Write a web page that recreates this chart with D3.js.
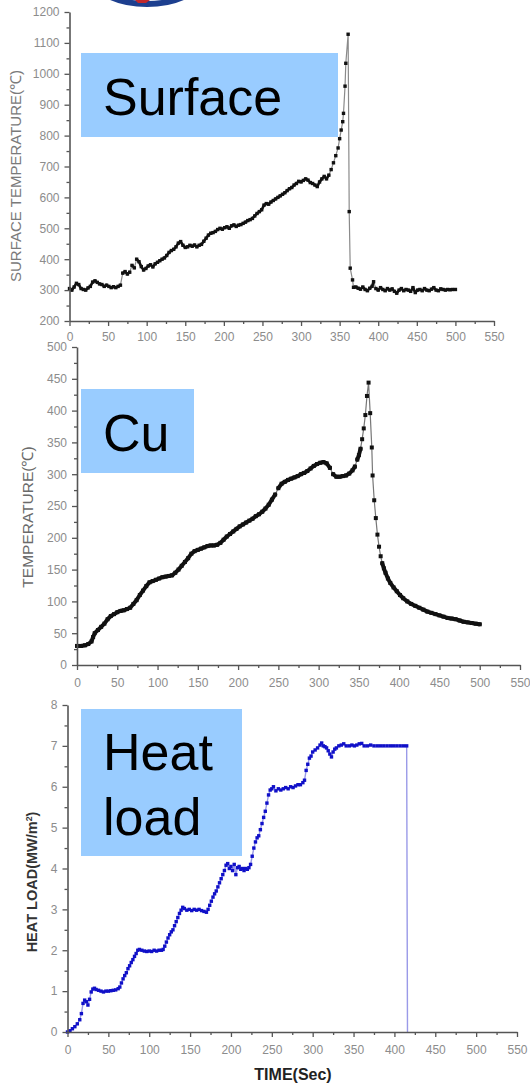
<!DOCTYPE html>
<html>
<head>
<meta charset="utf-8">
<script src="https://cdn.jsdelivr.net/npm/d3@7/dist/d3.min.js"></script>
<style>
  html, body { margin: 0; padding: 0; background: #fff; }
  svg { display: block; }
  .tick text { font-family: "Liberation Sans", Arial, sans-serif; fill: #8c8c8c; }
  .tick line, .domain { stroke: #555; }
</style>
</head>
<body>
<svg id="chart" width="530" height="1087"></svg>
<script>
// Surface temperature (s, °C)
const surfTime = [0,3,6,9,12,15,18,21,24,27,30,33,36,39,42,45,48,51,54,57,60,63,66,69,72,75,78,81,84,87,90,93,96,99,102,105,108,111,114,117,120,123,126,129,132,135,138,141,144,147,150,153,156,159,162,165,168,171,174,177,180,183,186,189,192,195,198,201,204,207,210,213,216,219,222,225,228,231,234,237,240,243,246,249,252,255,258,261,264,267,270,273,276,279,282,285,288,291,294,297,300,303,306,309,312,315,318,321,324,327,330,333,336,339,342,345,348,350,352,354,355,357,358,361,362.4,363.7,366.7,368,371,374,377,380,383,386,389,392,394,397,400,403,406,409,412,415,418,421,424,427,430,433,436,439,442,445,448,451,454,457,460,463,466,469,472,475,478,481,484,487,490,493,496,500];
const surfTemp = [305,300,310,322,318,305,302,300,307,312,326,330,325,320,318,312,316,312,308,311,308,312,316,355,360,352,358,380,372,400,392,376,365,370,378,382,375,385,390,395,400,404,412,422,428,432,440,452,457,445,438,440,445,442,446,440,445,448,458,468,478,484,486,490,496,500,497,502,505,500,508,511,506,510,512,516,520,525,528,532,540,548,554,560,575,580,578,585,590,595,600,605,610,615,622,628,632,640,645,652,650,655,660,656,648,645,640,635,650,660,668,660,672,690,712,735,760,790,818,845,872,960,1034,1128,554,371,333,309,310,306,303,310,302,298,306,312,327,305,300,308,302,298,305,300,304,296,290,300,305,298,302,300,296,308,292,300,302,298,305,300,298,303,308,300,298,304,302,300,302,301,302,302];

// Copper temperature (s, °C)
const cuTime = [0,5,10,14,18,20,22,26,30,34,38,42,46,50,54,58,62,66,70,74,78,82,86,90,94,98,102,106,110,114,118,122,126,130,134,138,142,146,150,154,158,162,166,170,174,178,182,186,190,194,198,202,206,210,214,218,222,226,230,234,238,242,246,250,254,258,262,266,270,274,278,282,286,290,294,298,302,306,310,314,318,322,326,330,334,338,342,345,348,350,352,354,356,358,360,362,364,366,367,369,371,373,375,377,379,381,383,386,389,393,397,401,405,410,415,420,425,430,435,440,445,450,455,460,465,470,475,480,485,490,495,500];
const cuTemp = [30,30,31,33,37,44,50,55,60,65,72,77,80,83,85,86,88,90,96,102,110,117,124,130,132,134,136,138,139,140,141,145,150,156,162,168,175,179,181,183,185,187,188,188,189,192,197,202,206,210,214,218,221,224,227,230,234,237,241,246,252,260,268,278,285,288,291,293,295,297,300,302,305,309,313,316,318,319,317,310,300,296,296,297,298,301,306,312,323,330,340,355,372,393,423,444,396,342,298,259,231,205,186,171,160,152,145,136,129,122,116,110,105,100,96,93,90,87,84,82,80,78,76,74,73,72,70,68,67,66,65,64];

// Heat load (s, MW/m²)
const heatTime = [0,3,6,9,12,15,17,19,21,23,25,27,29,31,33,35,38,41,44,47,50,53,56,59,62,64,66,68,70,72,74,76,78,80,82,84,86,88,91,94,97,100,103,106,109,112,115,117,119,121,123,125,127,129,131,133,135,137,139,141,143,146,149,152,155,158,161,164,167,170,172,174,176,178,180,182,184,186,188,190,192,194,196,198,200,202,204,206,208,210,212,214,216,218,220,222,224,226,228,230,232,234,236,238,240,242,244,246,248,250,252,255,258,261,264,267,270,273,276,279,282,285,288,290,292,294,296,298,300,303,306,309,311,313,315,317,319,321,323,325,327,329,332,335,338,341,345,348,351,354,357,360,363,367,371,375,379,383,387,391,395,399,403,407,411,415,416];
const heatLoad = [0,0.03,0.08,0.13,0.2,0.3,0.45,0.7,0.78,0.74,0.66,0.8,0.98,1.05,1.07,1.04,1.02,1.0,0.98,1.0,1.0,1.01,1.02,1.03,1.06,1.1,1.2,1.3,1.38,1.45,1.55,1.62,1.7,1.77,1.85,1.92,2.0,2.02,2.0,1.98,1.97,1.98,1.97,2.0,1.98,2.0,2.0,2.02,2.1,2.2,2.3,2.38,2.45,2.5,2.6,2.7,2.8,2.9,2.98,3.05,3.02,2.98,3.0,2.97,3.0,2.98,3.0,2.97,2.95,2.93,3.0,3.1,3.2,3.3,3.38,3.45,3.55,3.65,3.75,3.85,3.95,4.08,4.12,4.0,4.05,3.95,4.1,3.85,4.02,4.05,3.98,4.0,3.95,4.0,3.98,4.02,4.1,4.3,4.5,4.65,4.75,4.8,4.95,5.1,5.25,5.4,5.6,5.8,5.92,5.95,6.0,5.9,5.95,5.92,5.95,5.98,5.95,6.0,5.98,6.02,6.05,6.05,6.1,6.16,6.4,6.55,6.7,6.75,6.85,6.9,6.95,7.02,7.07,7.0,6.98,6.95,6.88,6.8,6.73,6.85,6.92,6.95,7.0,7.02,7.05,7.0,7.0,7.02,7.0,7.02,7.05,7.06,7.0,7.0,7.02,7.0,7.0,7.0,7.0,7.0,7.0,7.0,7.0,7.0,7.0,7.0,0];

// Axis tick values
const timeTicks = [0,50,100,150,200,250,300,350,400,450,500,550];
const surfTicks = [200,300,400,500,600,700,800,900,1000,1100,1200];
const cuTicks = [0,50,100,150,200,250,300,350,400,450,500];
const heatTicks = [0,1,2,3,4,5,6,7,8];

const svg = d3.select("#chart");
const FONT = '"Liberation Sans", Arial, sans-serif';

// partial logo cut off at the top edge
const logo = svg.append("g");
logo.append("ellipse").attr("cx", 147).attr("cy", -22).attr("rx", 53).attr("ry", 26)
  .attr("fill", "#fff").attr("stroke", "#1d3f8f").attr("stroke-width", 6);
logo.append("path").attr("d", "M135,0 L150,0 L146,3 L138,3 Z").attr("fill", "#c0282d");

function panel(cfg) {
  const g = svg.append("g");
  const x = d3.scaleLinear().domain([0, 550]).range([cfg.x0, cfg.x1]);
  const y = d3.scaleLinear().domain(cfg.yDomain).range([cfg.yBot, cfg.yTop]);

  const pts = cfg.time.map((t, i) => [t, cfg.vals[i]]);

  // thin connecting line
  const line = d3.line().x((d) => x(d[0])).y((d) => y(d[1]));
  g.append("path").datum(pts).attr("d", line)
    .attr("fill", "none").attr("stroke", cfg.lineColor).attr("stroke-width", cfg.lineWidth);

  // where samples sit close together the markers merge into a solid trace
  if (cfg.denseWidth) {
    let d = "";
    for (let i = 1; i < pts.length; i++) {
      const x1 = x(pts[i - 1][0]), y1 = y(pts[i - 1][1]);
      const x2 = x(pts[i][0]), y2 = y(pts[i][1]);
      if (Math.hypot(x2 - x1, y2 - y1) < cfg.denseGap) d += `M${x1},${y1}L${x2},${y2}`;
    }
    g.append("path").attr("d", d).attr("fill", "none").attr("stroke", cfg.markerColor)
      .attr("stroke-width", cfg.denseWidth).attr("stroke-linecap", "round");
  }

  const ms = cfg.marker;
  g.selectAll("rect.pt").data(cfg.markerFilter ? pts.filter(cfg.markerFilter) : pts).join("rect")
    .attr("class", "pt")
    .attr("x", (d) => x(d[0]) - ms / 2).attr("y", (d) => y(d[1]) - ms / 2)
    .attr("width", ms).attr("height", ms).attr("fill", cfg.markerColor);

  // axes with major and minor ticks
  const yMinor = cfg.yTicks.slice(0, -1).map((v, i) => (v + cfg.yTicks[i + 1]) / 2);
  const xMinor = timeTicks.slice(0, -1).map((v, i) => (v + timeTicks[i + 1]) / 2);

  const ya = g.append("g").attr("transform", `translate(${cfg.x0},0)`)
    .call(d3.axisLeft(y).tickValues(cfg.yTicks).tickFormat(d3.format("d"))
      .tickSize(5).tickSizeOuter(0).tickPadding(5));
  ya.append("g").call(d3.axisLeft(y).tickValues(yMinor).tickSize(3).tickSizeOuter(0).tickFormat(""))
    .select(".domain").remove();
  const xa = g.append("g").attr("transform", `translate(0,${cfg.yBot})`)
    .call(d3.axisBottom(x).tickValues(timeTicks).tickFormat(d3.format("d"))
      .tickSize(5).tickSizeOuter(0).tickPadding(cfg.xPad));
  xa.append("g").call(d3.axisBottom(x).tickValues(xMinor).tickSize(3).tickSizeOuter(0).tickFormat(""))
    .select(".domain").remove();
  g.selectAll(".domain").attr("stroke-width", 1.6);
  g.selectAll(".tick line").attr("stroke-width", 1.3);
  g.selectAll(".tick text").attr("font-size", 12).attr("font-family", FONT);

  // y-axis title
  const yl = g.append("text")
    .attr("transform", `translate(${cfg.yLabelX},${cfg.yLabelY}) rotate(-90)`)
    .attr("text-anchor", "middle").attr("font-family", FONT)
    .attr("font-size", cfg.yLabelSize).attr("fill", cfg.yLabelColor)
    .attr("font-weight", cfg.yLabelWeight || "normal");
  cfg.yLabel.forEach((part) => {
    const ts = yl.append("tspan").text(part.t);
    if (part.sup) ts.attr("baseline-shift", "super").attr("font-size", cfg.yLabelSize * 0.6);
  });

  // name box
  g.append("rect").attr("x", cfg.box[0]).attr("y", cfg.box[1])
    .attr("width", cfg.box[2]).attr("height", cfg.box[3]).attr("fill", "#99ccff");
  cfg.name.forEach((s, i) => {
    g.append("text").attr("x", cfg.box[0] + 22).attr("y", cfg.nameY + i * 65)
      .attr("font-family", FONT).attr("font-size", 52).attr("fill", "#000").text(s);
  });
  return g;
}

panel({
  time: surfTime, vals: surfTemp, yDomain: [200, 1200], yTicks: surfTicks,
  x0: 69.5, x1: 494, yTop: 12, yBot: 321, xPad: 6,
  lineColor: "#8a8a8a", lineWidth: 1.2, marker: 3.4, markerColor: "#111",
  denseWidth: 2.6, denseGap: 6,
  yLabel: [{ t: "SURFACE  TEMPERATURE(\u2103)" }], yLabelX: 21, yLabelY: 176, yLabelSize: 15, yLabelColor: "#7a7a7a",
  box: [81, 53, 257, 84], name: ["Surface"], nameY: 115
});

panel({
  time: cuTime, vals: cuTemp, yDomain: [0, 500], yTicks: cuTicks,
  x0: 77, x1: 520, yTop: 347, yBot: 665, xPad: 8,
  lineColor: "#777", lineWidth: 1.2, marker: 4, markerColor: "#111",
  denseWidth: 4, denseGap: 7,
  yLabel: [{ t: "TEMPERATURE(\u2103)" }], yLabelX: 33, yLabelY: 517, yLabelSize: 15.5, yLabelColor: "#6a6a6a",
  box: [81, 389, 113, 84], name: ["Cu"], nameY: 451
});

panel({
  time: heatTime, vals: heatLoad, yDomain: [0, 8], yTicks: heatTicks,
  x0: 67.5, x1: 517, yTop: 705, yBot: 1032, xPad: 8,
  lineColor: "#9a9ae8", lineWidth: 1.4, marker: 3.4, markerColor: "#1010c8",
  markerFilter: (d) => !(d[1] === 0 && d[0] > 400),
  yLabel: [{ t: "HEAT LOAD(MW/m" }, { t: "2", sup: true }, { t: ")" }], yLabelX: 37, yLabelY: 882, yLabelSize: 14.5, yLabelColor: "#333", yLabelWeight: "bold",
  box: [81, 709, 161, 147], name: ["Heat", "load"], nameY: 770
});

// shared x-axis title
svg.append("text").attr("x", 293).attr("y", 1080).attr("text-anchor", "middle")
  .attr("font-family", FONT).attr("font-size", 16).attr("font-weight", "bold")
  .attr("fill", "#222").text("TIME(Sec)");
</script>
</body>
</html>
